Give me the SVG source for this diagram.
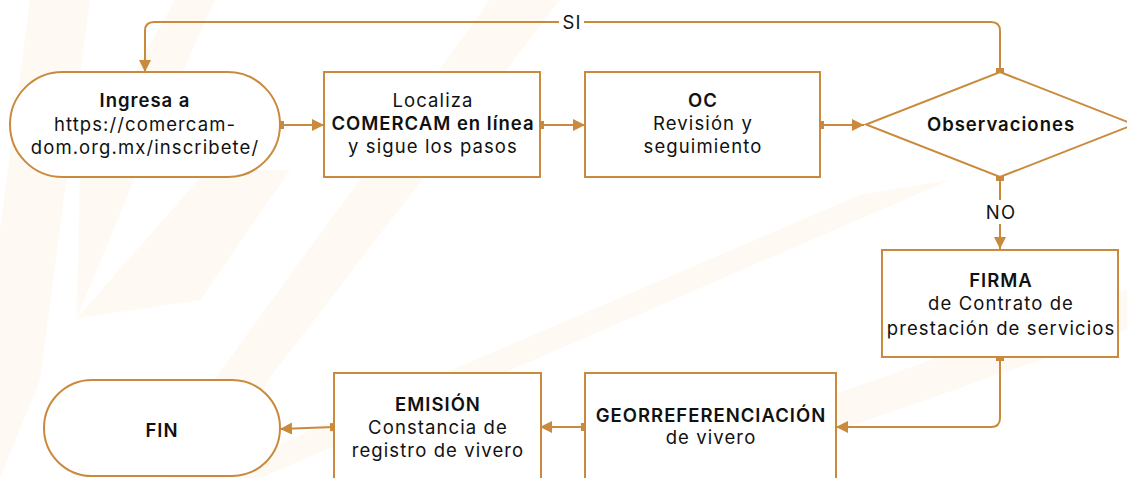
<svg xmlns="http://www.w3.org/2000/svg" width="1127" height="478" viewBox="0 0 1127 478">
<style>
.shape{fill:#fff;stroke:#C98A3D;stroke-width:2}
.conn{fill:none;stroke:#C98A3D;stroke-width:2}
text{font-family:Inter,"Open Sans","Liberation Sans",sans-serif;font-size:18.5px;fill:#111;text-anchor:middle;letter-spacing:1.1px}
.b{font-weight:600;letter-spacing:1px}
.wm{fill:#FDF3E8;opacity:0.5}
</style>
<defs>
<marker id="arr" markerUnits="userSpaceOnUse" markerWidth="14" markerHeight="14" refX="12" refY="7" orient="auto">
<path d="M0,1 L12,7 L0,13 Z" fill="#C98A3D"/>
</marker>
<marker id="sq" markerUnits="userSpaceOnUse" markerWidth="9" markerHeight="9" refX="4.5" refY="4.5" orient="auto">
<rect x="0.5" y="0.5" width="8" height="8" fill="#C98A3D"/>
</marker>
</defs>
<rect width="1127" height="478" fill="#fff"/>
<g id="watermark">
<polygon class="wm" points="30,0 90,0 40,380 0,478 0,230"/>
<polygon class="wm" points="175,0 215,0 138,170 77,318 80,170"/>
<polygon class="wm" points="77,318 207,170 290,170 200,300"/>
<polygon class="wm" points="490,0 560,0 268,380 230,478 170,478 214,380"/>
<polygon class="wm" points="950,180 260,478 200,478 860,195"/>
<polygon class="wm" points="1127,290 1127,330 700,478 600,478"/>
</g>
<g id="connectors">
<path class="conn" d="M1000,72 V31 Q1000,22 991,22 H154 Q145,22 145,31 V72" marker-start="url(#sq)" marker-end="url(#arr)"/>
<rect x="559" y="10" width="25" height="24" fill="#fff"/>
<text x="572" y="29">SI</text>
<path class="conn" d="M280,125 H324" marker-start="url(#sq)" marker-end="url(#arr)"/>
<path class="conn" d="M540,125 H585" marker-start="url(#sq)" marker-end="url(#arr)"/>
<path class="conn" d="M820,125 H864" marker-start="url(#sq)" marker-end="url(#arr)"/>
<path class="conn" d="M1000,177 V249" marker-start="url(#sq)" marker-end="url(#arr)"/>
<rect x="983" y="200" width="35" height="24" fill="#fff"/>
<text x="1001" y="219">NO</text>
<path class="conn" d="M1000,357 V418 Q1000,427 991,427 H836" marker-start="url(#sq)" marker-end="url(#arr)"/>
<path class="conn" d="M585,427 H540" marker-start="url(#sq)" marker-end="url(#arr)"/>
<path class="conn" d="M334,427 L280,429" marker-start="url(#sq)" marker-end="url(#arr)"/>
</g>
<g id="n-inicio">
<rect class="shape" x="10" y="72" width="270" height="105" rx="52.5"/>
<text class="b" x="145" y="107">Ingresa a</text>
<text x="145" y="131">https://comercam-</text>
<text x="145" y="154">dom.org.mx/inscribete/</text>
</g>
<g id="n-localiza">
<rect class="shape" x="324" y="72" width="216" height="105"/>
<text x="433" y="107">Localiza</text>
<text class="b" x="433" y="130">COMERCAM en línea</text>
<text x="433" y="153">y sigue los pasos</text>
</g>
<g id="n-oc">
<rect class="shape" x="585" y="72" width="235" height="105"/>
<text class="b" x="703" y="107">OC</text>
<text x="703" y="130">Revisión y</text>
<text x="703" y="153">seguimiento</text>
</g>
<g id="n-observaciones">
<polygon class="shape" points="1000,72 1134,124.5 1000,177 866,124.5"/>
<text class="b" x="1001" y="131">Observaciones</text>
</g>
<g id="n-firma">
<rect class="shape" x="882" y="250" width="236" height="107"/>
<text class="b" x="1001" y="287">FIRMA</text>
<text x="1001" y="310">de Contrato de</text>
<text x="1001" y="335">prestación de servicios</text>
</g>
<g id="n-geo">
<rect class="shape" x="585" y="373" width="251" height="120"/>
<text class="b" x="711" y="422">GEORREFERENCIACIÓN</text>
<text x="711" y="444">de vivero</text>
</g>
<g id="n-emision">
<rect class="shape" x="334" y="373" width="207" height="120"/>
<text class="b" x="438" y="411">EMISIÓN</text>
<text x="438" y="434">Constancia de</text>
<text x="438" y="457">registro de vivero</text>
</g>
<g id="n-fin">
<rect class="shape" x="44" y="380" width="236" height="96" rx="48"/>
<text class="b" x="162" y="437">FIN</text>
</g>
</svg>
